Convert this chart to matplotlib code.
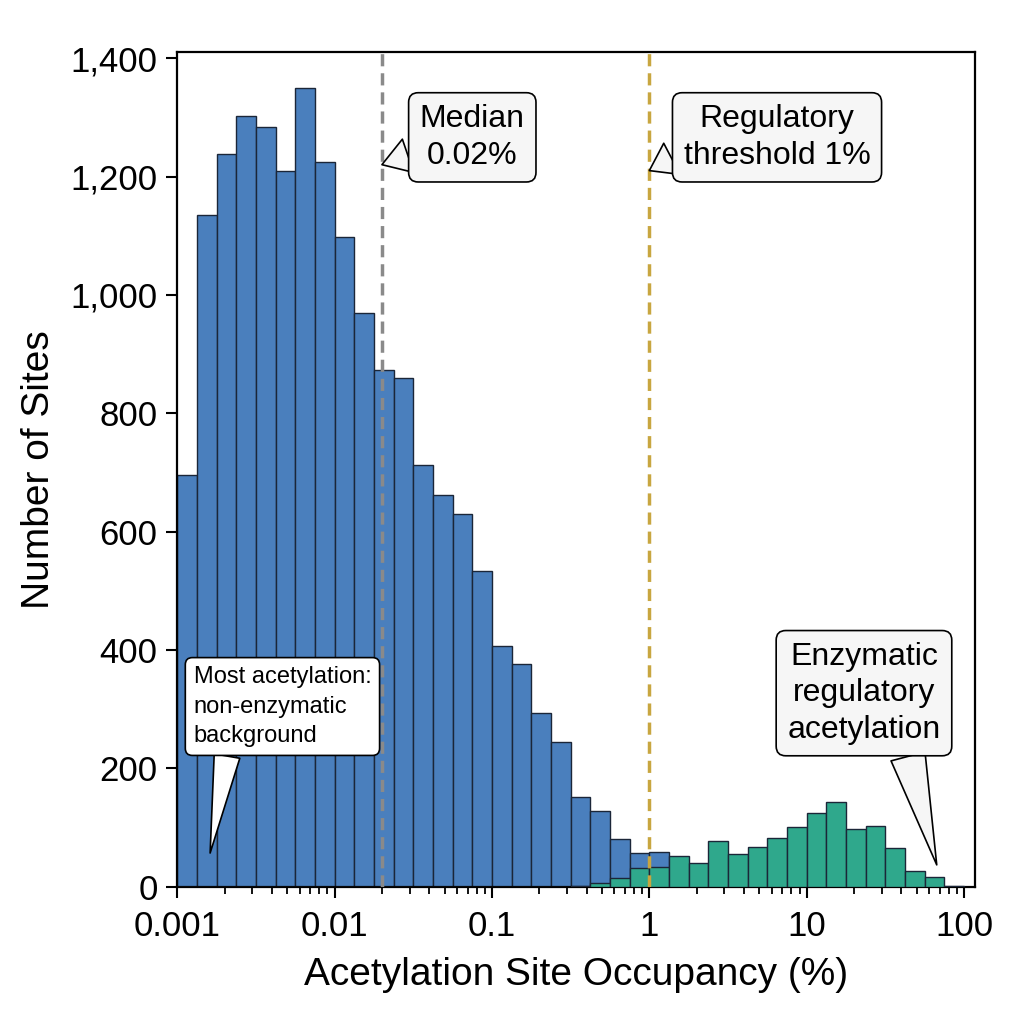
import numpy as np
import matplotlib
matplotlib.use("Agg")
import matplotlib.pyplot as plt
from matplotlib.ticker import FuncFormatter, LogLocator, NullFormatter

plt.rcParams['font.family'] = ['Liberation Sans', 'DejaVu Sans']

# histogram bins: 8 per decade from 0.001% to 100%
bin_edges = 10 ** np.linspace(-3, 2, 41)

# non-enzymatic background (blue)
background_counts = [695, 1135, 1238, 1303, 1283, 1209, 1350, 1225, 1097, 970,
                     873, 860, 713, 662, 630, 534, 407, 376, 293, 244,
                     152, 128, 80, 57, 58, 30, 18, 10, 5, 0,
                     0, 0, 0, 0, 0, 0, 0, 0, 0, 0]

# enzymatic regulatory (green)
enzymatic_counts = [0, 0, 0, 0, 0, 0, 0, 0, 0, 0,
                    0, 0, 0, 0, 0, 0, 0, 0, 0, 0,
                    2, 7, 15, 32, 34, 52, 40, 78, 56, 68,
                    82, 101, 124, 144, 97, 102, 65, 27, 16, 2]

median_value = 0.02
threshold_value = 1.0

blue = '#4a7fbd'
green = '#2fa88c'
edge = '#1b2638'

fig = plt.figure(figsize=(10.24, 10.24), dpi=100)
ax = fig.add_axes([0.173, 0.134, 0.779, 0.815])

centers = np.sqrt(bin_edges[:-1] * bin_edges[1:])
ax.hist(centers, bins=bin_edges, weights=background_counts, color=blue,
        edgecolor=edge, linewidth=1.0, zorder=2)
ax.hist(centers, bins=bin_edges, weights=enzymatic_counts, color=green,
        edgecolor=edge, linewidth=1.0, zorder=3)

ax.axvline(median_value, color='#8a8a8a', linestyle=(0, (3.5, 2)), linewidth=2.5, zorder=4)
ax.axvline(threshold_value, color='#c8a640', linestyle=(0, (3.5, 2)), linewidth=2.5, zorder=4)

ax.set_xscale('log')
ax.set_xlim(1e-3, 117)
ax.set_ylim(0, 1410)
ax.set_yticks([0, 200, 400, 600, 800, 1000, 1200, 1400])
ax.yaxis.set_major_formatter(FuncFormatter(lambda v, p: f'{int(v):,}'))
ax.xaxis.set_major_locator(LogLocator(base=10, numticks=10))
ax.xaxis.set_major_formatter(FuncFormatter(lambda v, p: f'{v:g}'))
ax.xaxis.set_minor_locator(LogLocator(base=10, subs=np.arange(2, 10), numticks=20))
ax.xaxis.set_minor_formatter(NullFormatter())

ax.tick_params(axis='both', which='major', labelsize=25, length=8, width=1.5, direction='out')
ax.tick_params(axis='y', which='major', pad=6)
ax.tick_params(axis='x', which='major', pad=9)
ax.tick_params(axis='x', which='minor', length=5, width=1.3)
for s in ax.spines.values():
    s.set_linewidth(1.6)

ax.set_xlabel('Acetylation Site Occupancy (%)', fontsize=28, labelpad=10)
ax.set_ylabel('Number of Sites', fontsize=28, labelpad=10)


def callout(text, xy, xytext, relpos, size, face, spacing, align='center'):
    ax.annotate(text, xy=xy, xytext=xytext, textcoords='axes fraction',
                ha='center', va='center', fontsize=size, linespacing=spacing,
                multialignment=align,
                bbox=dict(boxstyle='round,pad=0.35,rounding_size=0.3', fc=face, ec='black', lw=1.2),
                arrowprops=dict(arrowstyle='wedge,tail_width=1.1,shrink_factor=0.5',
                                fc=face, ec='black', lw=1.2, relpos=relpos,
                                shrinkA=0, shrinkB=0),
                zorder=6)


callout('Median\n0.02%', (median_value, 1220), (0.370, 0.898), (0.03, 0.3), 23, '#f6f6f6', 1.3)
callout('Regulatory\nthreshold 1%', (threshold_value, 1210), (0.752, 0.898), (0.02, 0.3), 23, '#f6f6f6', 1.3)
callout('Most acetylation:\nnon-enzymatic\nbackground', (0.00162, 57), (0.132, 0.216), (0.2, 0.04),
        17, 'white', 1.45, align='left')
callout('Enzymatic\nregulatory\nacetylation', (67, 37), (0.861, 0.232), (0.76, 0.04), 23, '#f6f6f6', 1.28)

fig.savefig('out.png', dpi=100)
